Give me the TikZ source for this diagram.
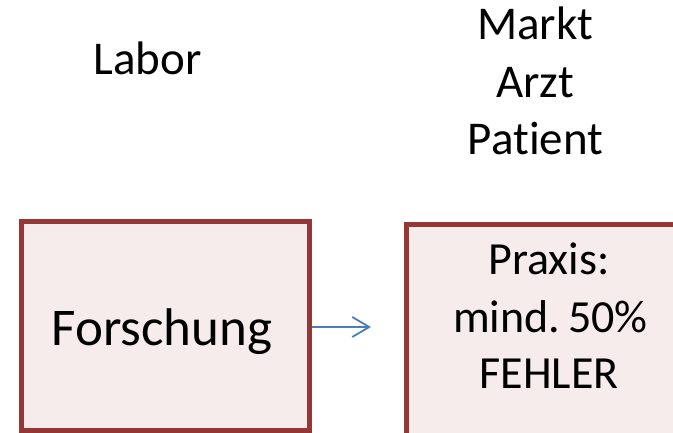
\documentclass[tikz,border=0pt]{standalone}
\usepackage{fontspec}
\setmainfont[Ligatures=NoCommon]{Carlito}
\usetikzlibrary{arrows.meta}
\definecolor{boxborder}{HTML}{953735}
\definecolor{boxfill}{HTML}{F7ECEC}
\definecolor{arrowblue}{HTML}{4A7EBB}
\tikzset{
  panel/.style={draw=boxborder, fill=boxfill, line width=5pt, rectangle, inner sep=0pt},
  lbl/.style={anchor=base, inner sep=0pt, font=\fontsize{47}{56}\selectfont},
  bigtxt/.style={anchor=base, inner sep=0pt, font=\fontsize{53}{60}\selectfont},
  boxtxt/.style={anchor=base, inner sep=0pt, font=\fontsize{46}{55}\selectfont},
  flow/.style={draw=arrowblue, line width=1.8pt, -{Straight Barb[length=17pt,width=20pt,line width=1.8pt]}}
}
\begin{document}
\begin{tikzpicture}[x=1pt,y=-1pt]
\useasboundingbox (0,0) rectangle (673,433);
\clip (0,0) rectangle (673,433);
\fill[white] (0,0) rectangle (673,433);
% boxes
\node[panel, minimum width=288pt, minimum height=208.5pt] (lbox) at (165.5,325.75) {};
\node[panel, minimum width=287pt, minimum height=222pt] (rbox) at (549.5,335.5) {};
% top labels
\node[lbl] (labor) at (147.5,75) {Labor};
\node[lbl] (markt) at (535,40) {Markt};
\node[lbl] (arzt) at (535,98) {Arzt};
\node[lbl] (patient) at (535.5,155) {Patient};
% box texts
\node[bigtxt] (forschung) at (162,345) {Forschung};
\node[boxtxt] (praxis) at (549,275) {Praxis:};
\node[boxtxt] (mind) at (550.5,332) {mind.\kern-0.05em\ 50\%};
\node[boxtxt] (fehler) at (549,388) {FEHLER};
% arrow
\coordinate (aend) at (371,327);
\draw[flow] (lbox.east |- aend) -- (aend);
\end{tikzpicture}
\end{document}
